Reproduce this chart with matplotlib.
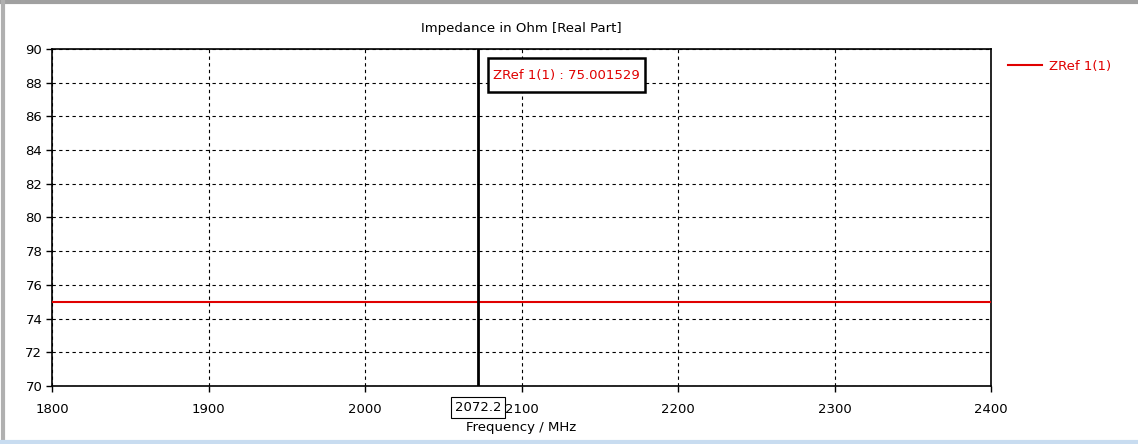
import matplotlib
matplotlib.use('Agg')
import matplotlib.pyplot as plt
from matplotlib.lines import Line2D
from matplotlib.patches import Rectangle

# data
freq = [1800, 1900, 2000, 2100, 2200, 2300, 2400]
zref = [75.001529, 75.001529, 75.001529, 75.001529, 75.001529, 75.001529, 75.001529]
marker_freq = 2072.2
marker_val = 75.001529
x_ticks = [1800, 1900, 2000, 2100, 2200, 2300, 2400]
y_ticks = [70, 72, 74, 76, 78, 80, 82, 84, 86, 88, 90]

plt.rcParams['font.family'] = ['DejaVu Sans']

fig = plt.figure(figsize=(11.38, 4.44), dpi=100)
ax = fig.add_axes([52 / 1138, 1 - 386 / 444, 939 / 1138, 337 / 444])

ax.plot(freq, zref, color='#e00000', lw=1.5, zorder=3)
ax.axvline(marker_freq, color='black', lw=2, zorder=4)

ax.set_xlim(1800, 2400)
ax.set_ylim(70, 90)
ax.set_xticks(x_ticks)
ax.set_yticks(y_ticks)
ax.grid(True, color='black', linestyle=(0, (3, 3)), lw=0.8)
ax.tick_params(direction='out', length=4, width=1, labelsize=9.5, colors='black', pad=8)
ax.tick_params(axis='y', pad=3)
for s in ax.spines.values():
    s.set_linewidth(1.2)

ax.set_title('Impedance in Ohm [Real Part]', fontsize=9.5, pad=12)
ax.set_xlabel('Frequency / MHz', fontsize=9.5, labelpad=4)

# marker value box
ax.add_patch(Rectangle((0.4643, 0.8724), 0.1672, 0.1009, transform=ax.transAxes,
                       fc='white', ec='black', lw=1.8, zorder=5))
ax.text(0.5479, 0.9228, f'ZRef 1(1) : {marker_val}', color='#e00000', fontsize=9.5,
        ha='center', va='center', zorder=6, transform=ax.transAxes)

# marker frequency label below the axis
ax.annotate(f'{marker_freq}', xy=(marker_freq, 70), xycoords='data',
            xytext=(0, -15.5), textcoords='offset points', ha='center', va='center',
            fontsize=9.5, zorder=5,
            bbox=dict(boxstyle='square,pad=0.3', fc='white', ec='black', lw=0.8))

# legend
leg_handle = [Line2D([0], [0], color='#e00000', lw=1.5)]
fig.legend(leg_handle, ['ZRef 1(1)'], loc='upper left', bbox_to_anchor=(996 / 1138, 1 - 48 / 444),
           frameon=False, fontsize=9.5, handlelength=2.6, handletextpad=0.5, labelcolor='#e00000')

# window border
fig.add_artist(Line2D([0, 1], [1 - 2 / 444, 1 - 2 / 444], color='#a0a0a0', lw=3, transform=fig.transFigure))
fig.add_artist(Line2D([3 / 1138, 3 / 1138], [0, 1], color='#b0b0b0', lw=3, transform=fig.transFigure))
fig.add_artist(Line2D([0, 1], [2 / 444, 2 / 444], color='#c8dcf0', lw=3, transform=fig.transFigure))

fig.savefig('out.png', dpi=100)
